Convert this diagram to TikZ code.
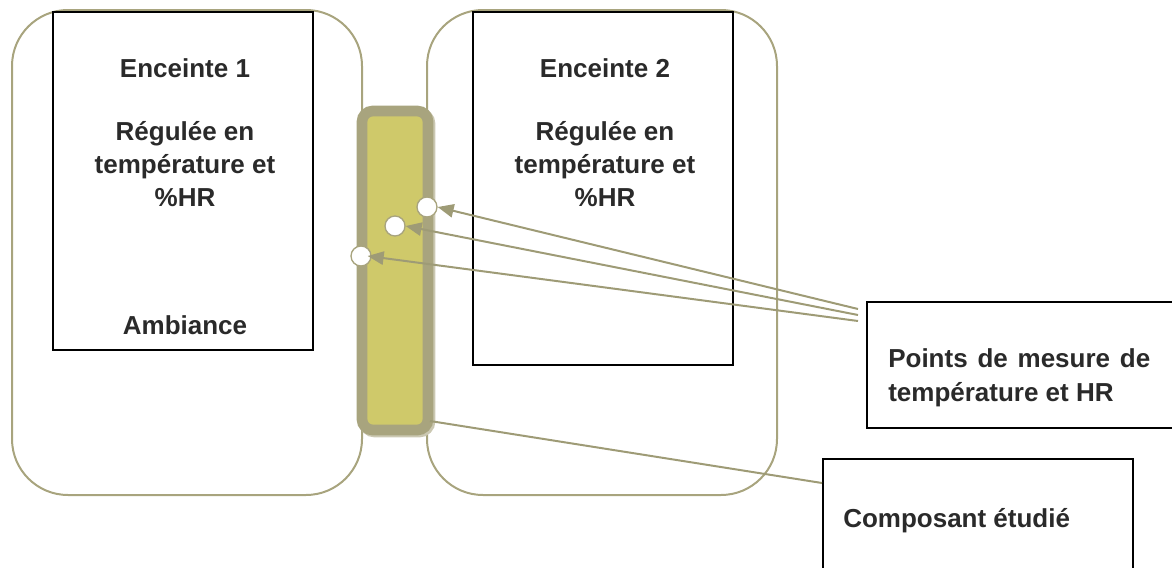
\documentclass[tikz,border=0pt]{standalone}
\usepackage{fontspec}
\setmainfont{Liberation Sans}
\usetikzlibrary{arrows.meta}
\definecolor{olive}{HTML}{A8A47E}
\definecolor{olivedark}{HTML}{9E9B76}
\definecolor{compfill}{HTML}{CFC96A}
\definecolor{inktext}{HTML}{2A2A2A}
\tikzset{
  enclosure/.style={draw=olive, line width=1.5, rounded corners=42},
  label/.style={font=\bfseries\fontsize{19.5}{25}\selectfont, text=inktext, inner sep=0},
  callout/.style={draw=black, line width=1, fill=white, inner sep=0, outer sep=0},
  probe/.style={circle, draw=olive, line width=1, fill=white, minimum size=15, inner sep=0},
  pointer/.style={draw=olivedark, line width=1.5, -{Triangle[length=12, width=10]}},
  leader/.style={draw=olivedark, line width=1.5},
}
\begin{document}
\begin{tikzpicture}[x=0.75pt, y=-0.75pt]
\useasboundingbox (0,0) rectangle (1172,568);

% the two climatic enclosures
\draw[enclosure] (12,10) rectangle (362,495);
\draw[enclosure] (427,10) rectangle (777,495);

% regulated chambers
\draw[draw=black, line width=1] (53,12) rectangle (313,350);
\draw[draw=black, line width=1] (473,12) rectangle (733,365);

\node[label] (e1) at (185,68) {Enceinte 1};
\node[label, align=center] (r1) at (185,164) {Régulée en\\température et\\\%HR};
\node[label] (amb) at (185,325) {Ambiance};

\node[label] (e2) at (605,68) {Enceinte 2};
\node[label, align=center] (r2) at (605,164) {Régulée en\\température et\\\%HR};

% the studied component between the enclosures
\draw[draw=olive!60, line width=8, rounded corners=8] (364,113) rectangle (430,432);
\draw[draw=olive, line width=8, fill=compfill, rounded corners=8] (362,111) rectangle (428,430);

% measurement points
\node[probe] (p1) at (427,207) {};
\node[probe] (p2) at (395,226) {};
\node[probe] (p3) at (361,256) {};

% callout boxes
\draw[callout] (867,302) rectangle (1180,428);
\node[label, anchor=west] (pts1) at (888,358) {\makebox[196.5pt][s]{Points de mesure de}};
\node[label, anchor=west] (pts2) at (888,395) {température et HR};

\draw[callout] (823,459) rectangle (1133,580);
\node[label, anchor=west] (comp) at (843,521) {Composant étudié};
\coordinate (compbox) at (822,483);
\coordinate (compedge) at (430,421);

% connectors
\draw[pointer] (858,309) -- (p1.east);
\draw[pointer] (858,315) -- (p2.east);
\draw[pointer] (858,321) -- ([xshift=5]p3.center);
\draw[leader] (compbox) -- (compedge);
\end{tikzpicture}
\end{document}
